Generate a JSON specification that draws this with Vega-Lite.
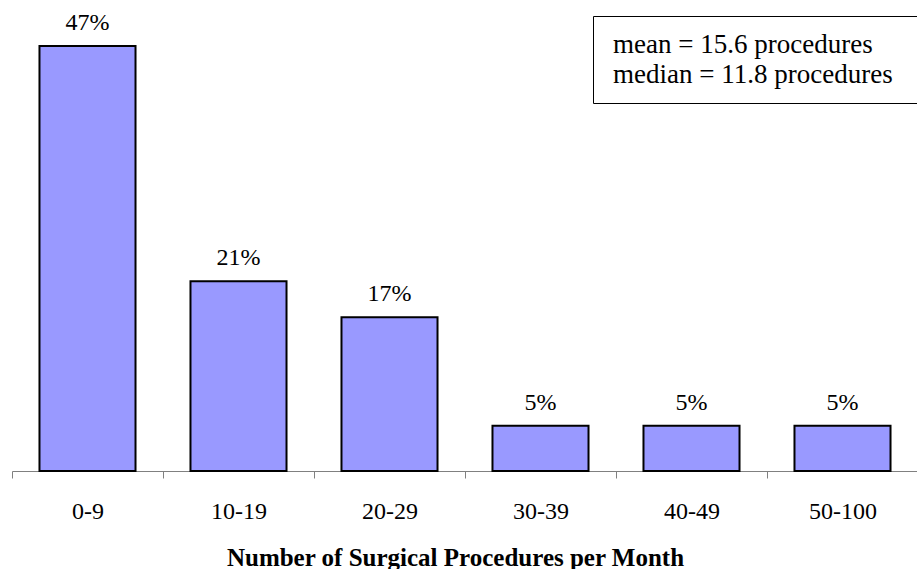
{
  "$schema": "https://vega.github.io/schema/vega-lite/v6.json",
  "width": 906,
  "height": 471,
  "autosize": {"type": "none"},
  "padding": {"left": 12, "top": 0, "right": 0, "bottom": 98},
  "background": "white",
  "config": {"view": {"stroke": null}, "font": "Liberation Serif"},
  "layer": [
    {
      "data": {"values": [
        {"range": "0-9", "pct": 0.47},
        {"range": "10-19", "pct": 0.21},
        {"range": "20-29", "pct": 0.17},
        {"range": "30-39", "pct": 0.05},
        {"range": "40-49", "pct": 0.05},
        {"range": "50-100", "pct": 0.05}
      ]},
      "layer": [
        {
          "mark": {"type": "bar", "fill": "#9999FF", "stroke": "black", "strokeWidth": 2},
          "encoding": {
            "x": {
              "field": "range", "type": "nominal", "sort": null,
              "scale": {"paddingInner": 0.364, "paddingOuter": 0.182},
              "axis": {
                "title": "Number of Surgical Procedures per Month",
                "titleFont": "Liberation Serif", "titleFontSize": 25, "titleFontWeight": "bold",
                "titleColor": "black", "titleBaseline": "alphabetic", "titleY": 94, "titleX": 443,
                "titleAlign": "center", "titleAnchor": "middle",
                "labelFont": "Liberation Serif", "labelFontSize": 24, "labelColor": "black",
                "labelAngle": 0, "labelPadding": 21,
                "domainColor": "#808080", "domainWidth": 1,
                "tickColor": "#808080", "tickSize": 7, "tickWidth": 1,
                "tickOffset": -75.5, "labelOffset": 75.5,
                "grid": false
              }
            },
            "y": {"field": "pct", "type": "quantitative", "scale": {"domain": [0, 0.521], "nice": false}, "axis": null}
          }
        },
        {
          "mark": {"type": "text", "font": "Liberation Serif", "fontSize": 24, "color": "black", "baseline": "alphabetic", "dy": -16},
          "encoding": {
            "x": {"field": "range", "type": "nominal", "sort": null},
            "y": {"field": "pct", "type": "quantitative"},
            "text": {"field": "pct", "type": "quantitative", "format": ".0%"}
          }
        }
      ]
    },
    {
      "data": {"values": [
        {"stat": "mean = 15.6 procedures"},
        {"stat": "median = 11.8 procedures"}
      ]},
      "mark": {"type": "point", "opacity": 0},
      "encoding": {
        "color": {
          "field": "stat", "type": "nominal",
          "scale": {"domain": ["mean = 15.6 procedures", "median = 11.8 procedures"], "range": ["white", "white"]},
          "legend": {
            "title": null, "orient": "none", "legendX": 581, "legendY": 16,
            "strokeColor": "black", "fillColor": "white",
            "padding": 15, "rowPadding": 2,
            "symbolSize": 0, "symbolOpacity": 0, "symbolStrokeWidth": 0,
            "labelOffset": -22, "labelLimit": 600,
            "labelFont": "Liberation Serif", "labelFontSize": 27, "labelColor": "black",
            "labelExpr": "datum.label + '\u00a0\u00a0\u00a0\u200b'"
          }
        }
      }
    }
  ]
}
